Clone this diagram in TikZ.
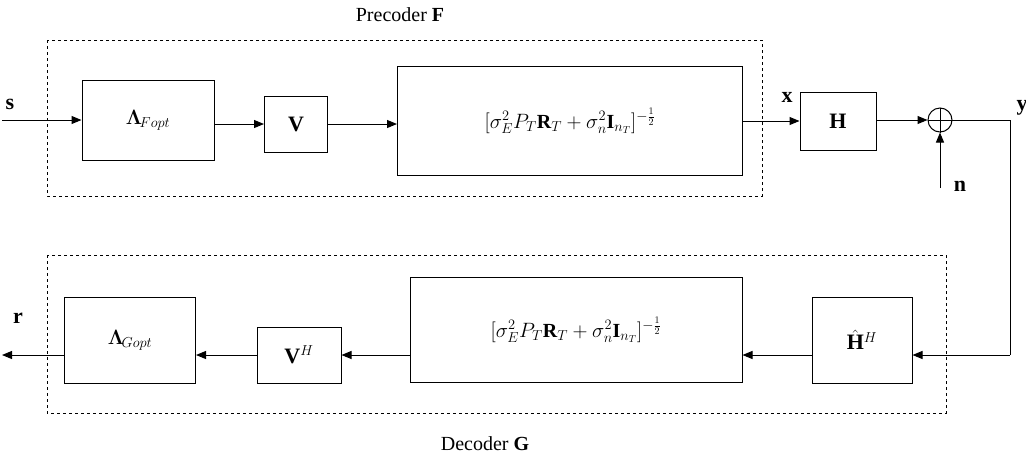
\documentclass[tikz,border=0pt]{standalone}
\usepackage{amsmath,amssymb,bm}
\usepackage{fontspec}
\setmainfont{Liberation Serif}
\usetikzlibrary{arrows.meta}
\begin{document}
\begin{tikzpicture}[x=1pt,y=-1pt,
  dbox/.style={draw,dashed,line width=0.8pt},
  arr/.style={line width=1pt,-{Triangle[length=10pt,width=8pt]}},
  lbl/.style={font=\fontsize{20}{22}\selectfont}]
\useasboundingbox (0,0) rectangle (1026,464);
\draw[dbox] (47,40) rectangle (762,196);
\draw[dbox] (47,255) rectangle (946,413);
\node[lbl] (pt) at (400,15) {Precoder $\mathbf{F}$};
\node[lbl] (dt) at (485,444) {Decoder $\mathbf{G}$};
% top row
\node[draw,line width=1pt,minimum width=132pt,minimum height=80pt,font=\fontsize{20}{22}\selectfont] (lf) at (148,120) {$\bm{\Lambda}_{\!Fopt}$};
\node[draw,line width=1pt,minimum width=63pt,minimum height=56pt,font=\fontsize{22}{24}\selectfont] (v) at (296,124) {$\mathbf{V}$};
\node[draw,line width=1pt,minimum width=345pt,minimum height=109pt,font=\fontsize{20}{22}\selectfont] (bf) at (570,121) {$[\sigma_E^2 P_T\mathbf{R}_T+\sigma_n^2\mathbf{I}_{n_T}]^{-\frac{1}{2}}$};
\node[draw,line width=1pt,minimum width=76pt,minimum height=58pt,font=\fontsize{22}{24}\selectfont] (h) at (838,121) {$\mathbf{H}$};
\node[draw,circle,line width=1pt,minimum size=24pt,inner sep=0pt] (sum) at (940,120) {};
\draw[line width=1pt] (sum.north)--(sum.south) (sum.west)--(sum.east);
\coordinate (sin) at (2,120);
\node[font=\fontsize{22}{24}\selectfont\bfseries] (sl) at (10,104) {s};
\draw[arr] (sin)--(lf.west|-sin);
\draw[arr] (lf.east|-v)--(v.west);
\draw[arr] (v.east)--(bf.west|-v);
\draw[arr] (bf.east|-h)--(h.west);
\node[font=\fontsize{22}{24}\selectfont\bfseries] (xl) at (787,97) {x};
\draw[arr] (h.east|-sum)--(sum.west);
\coordinate (nin) at (940,188);
\draw[arr] (nin)--(sum.south);
\node[font=\fontsize{22}{24}\selectfont\bfseries] (nl) at (960,186) {n};
\node[font=\fontsize{22}{24}\selectfont\bfseries] (yl) at (1022,108) {y};
\coordinate (c1) at (1010,120);
\coordinate (c2) at (1010,355);
% bottom row
\node[draw,line width=1pt,minimum width=100pt,minimum height=86pt,font=\fontsize{22}{24}\selectfont] (hh) at (862,340) {$\hat{\mathbf{H}}^{H}$};
\node[draw,line width=1pt,minimum width=332pt,minimum height=105pt,font=\fontsize{20}{22}\selectfont] (bg) at (576,330) {$[\sigma_E^2 P_T\mathbf{R}_T+\sigma_n^2\mathbf{I}_{n_T}]^{-\frac{1}{2}}$};
\node[draw,line width=1pt,minimum width=84pt,minimum height=56pt,font=\fontsize{22}{24}\selectfont] (vh) at (299,355) {$\mathbf{V}^{H}$};
\node[draw,line width=1pt,minimum width=131pt,minimum height=86pt,font=\fontsize{20}{22}\selectfont] (lg) at (130,340) {$\bm{\Lambda}_{\!Gopt}$};
\draw[line width=1pt] (sum.east)--(c1)--(c2);
\draw[arr] (c2)--(hh.east|-c2);
\draw[arr] (hh.west|-c2)--(bg.east|-c2);
\draw[arr] (bg.west|-c2)--(vh.east);
\draw[arr] (vh.west)--(lg.east|-vh);
\coordinate (rout) at (2,355);
\draw[arr] (lg.west|-rout)--(rout);
\node[font=\fontsize{22}{24}\selectfont\bfseries] (rl) at (18,318) {r};
\end{tikzpicture}
\end{document}
